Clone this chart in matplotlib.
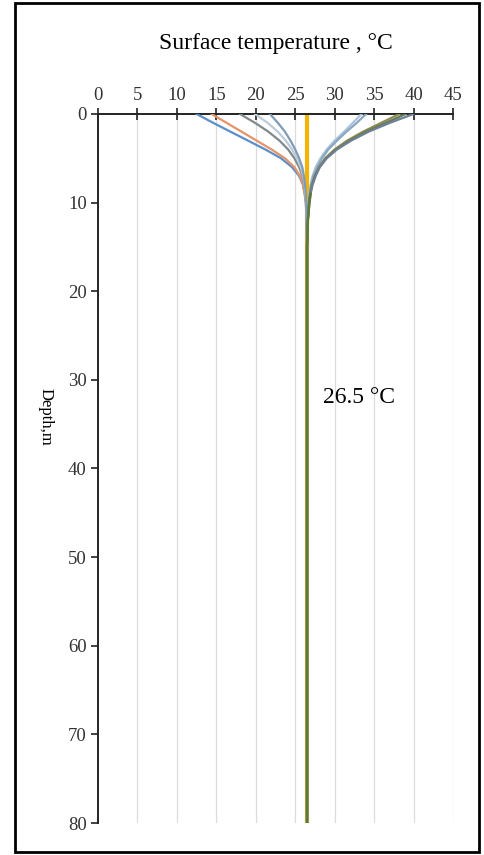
import matplotlib
matplotlib.use("Agg")
import matplotlib.pyplot as plt
from matplotlib.patches import Rectangle

plt.rcParams['font.family'] = ['Liberation Serif', 'DejaVu Serif']

# Depth points (m) and temperature profiles (°C)
depth = [0, 1, 2, 3, 4, 5, 6, 7, 8, 9, 10, 12, 15, 20, 80]

profiles = {
    "t12": [12.5, 14.6, 16.8, 19.0, 21.2, 23.2, 24.6, 25.5, 26.0, 26.2, 26.35, 26.45, 26.5, 26.5, 26.5],
    "t14": [14.4, 16.3, 18.2, 20.1, 22.0, 23.7, 24.9, 25.6, 26.0, 26.2, 26.35, 26.45, 26.5, 26.5, 26.5],
    "t18": [18.0, 19.9, 21.6, 23.0, 24.1, 24.9, 25.5, 25.9, 26.15, 26.3, 26.4, 26.45, 26.5, 26.5, 26.5],
    "t20": [19.9, 21.5, 22.8, 23.8, 24.6, 25.2, 25.7, 26.0, 26.2, 26.3, 26.4, 26.45, 26.5, 26.5, 26.5],
    "t22": [21.8, 22.8, 23.7, 24.4, 25.0, 25.5, 25.9, 26.1, 26.25, 26.35, 26.4, 26.45, 26.5, 26.5, 26.5],
    "t33": [33.4, 32.3, 31.2, 30.0, 29.0, 28.2, 27.6, 27.2, 26.95, 26.8, 26.7, 26.6, 26.5, 26.5, 26.5],
    "t34": [34.0, 32.8, 31.5, 30.3, 29.2, 28.4, 27.8, 27.3, 27.0, 26.85, 26.7, 26.6, 26.5, 26.5, 26.5],
    "t38": [38.2, 35.9, 33.6, 31.6, 30.0, 28.8, 28.0, 27.5, 27.1, 26.9, 26.75, 26.6, 26.5, 26.5, 26.5],
    "t39": [39.0, 36.5, 34.0, 31.9, 30.2, 28.9, 28.1, 27.5, 27.15, 26.9, 26.75, 26.6, 26.5, 26.5, 26.5],
    "t40": [40.0, 37.0, 34.3, 32.1, 30.3, 29.0, 28.1, 27.6, 27.2, 26.95, 26.8, 26.6, 26.5, 26.5, 26.5],
}
colors = {
    "t12": "#5b8fc9", "t14": "#e39468", "t18": "#7f8a8c", "t20": "#bccbd8",
    "t22": "#7e9bb8", "t33": "#aac5da", "t34": "#8aa7c2", "t38": "#8c8a4e",
    "t39": "#66785a", "t40": "#6c8096",
}

mean_temp = [26.5, 26.5]
mean_depth = [0, 80]

fig = plt.figure(figsize=(4.85, 8.55), dpi=100)
ax = fig.add_axes([0.202, 0.0374, 0.732, 0.8293])

# vertical grid lines
for gx in range(5, 50, 5):
    ax.plot([gx, gx], [0, 80], color="#dcdcdc", lw=0.9, zorder=0)

ax.plot(mean_temp, mean_depth, color="#f2b400", lw=3, zorder=2)
for name, temps in profiles.items():
    ax.plot(temps, depth, color=colors[name], lw=1.6, zorder=3)
# merged deep section shows olive-green on top
ax.plot(profiles["t40"][9:], depth[9:], color="#5e7a35", lw=1.8, zorder=4)

ax.set_xlim(0, 45)
ax.set_ylim(80, 0)
ax.set_xticks(range(0, 50, 5))
ax.set_yticks(range(0, 90, 10))
ax.xaxis.tick_top()
ax.tick_params(axis="x", direction="inout", length=9, width=1.2, colors="#222222",
               labelcolor="#333333", labelsize=13.5, pad=3)
ax.tick_params(axis="y", direction="out", length=5, width=1.2, colors="#222222",
               labelcolor="#333333", labelsize=13.5, pad=3)
for s in ["right", "bottom"]:
    ax.spines[s].set_visible(False)
for s in ["top", "left"]:
    ax.spines[s].set_linewidth(1.4)
    ax.spines[s].set_color("#222222")

ax.set_title("Surface temperature , °C", fontsize=17, pad=47)
fig.text(0.093, 0.512, "Depth,m", rotation=-90, ha="center", va="center", fontsize=12)
ax.text(28.5, 32, "26.5 °C", fontsize=17, ha="left", va="center")

fig.patches.append(Rectangle((15 / 485, 3 / 855), 464 / 485, 849 / 855, transform=fig.transFigure,
                             fill=False, edgecolor="black", lw=2))

fig.savefig("out.png", dpi=100)
